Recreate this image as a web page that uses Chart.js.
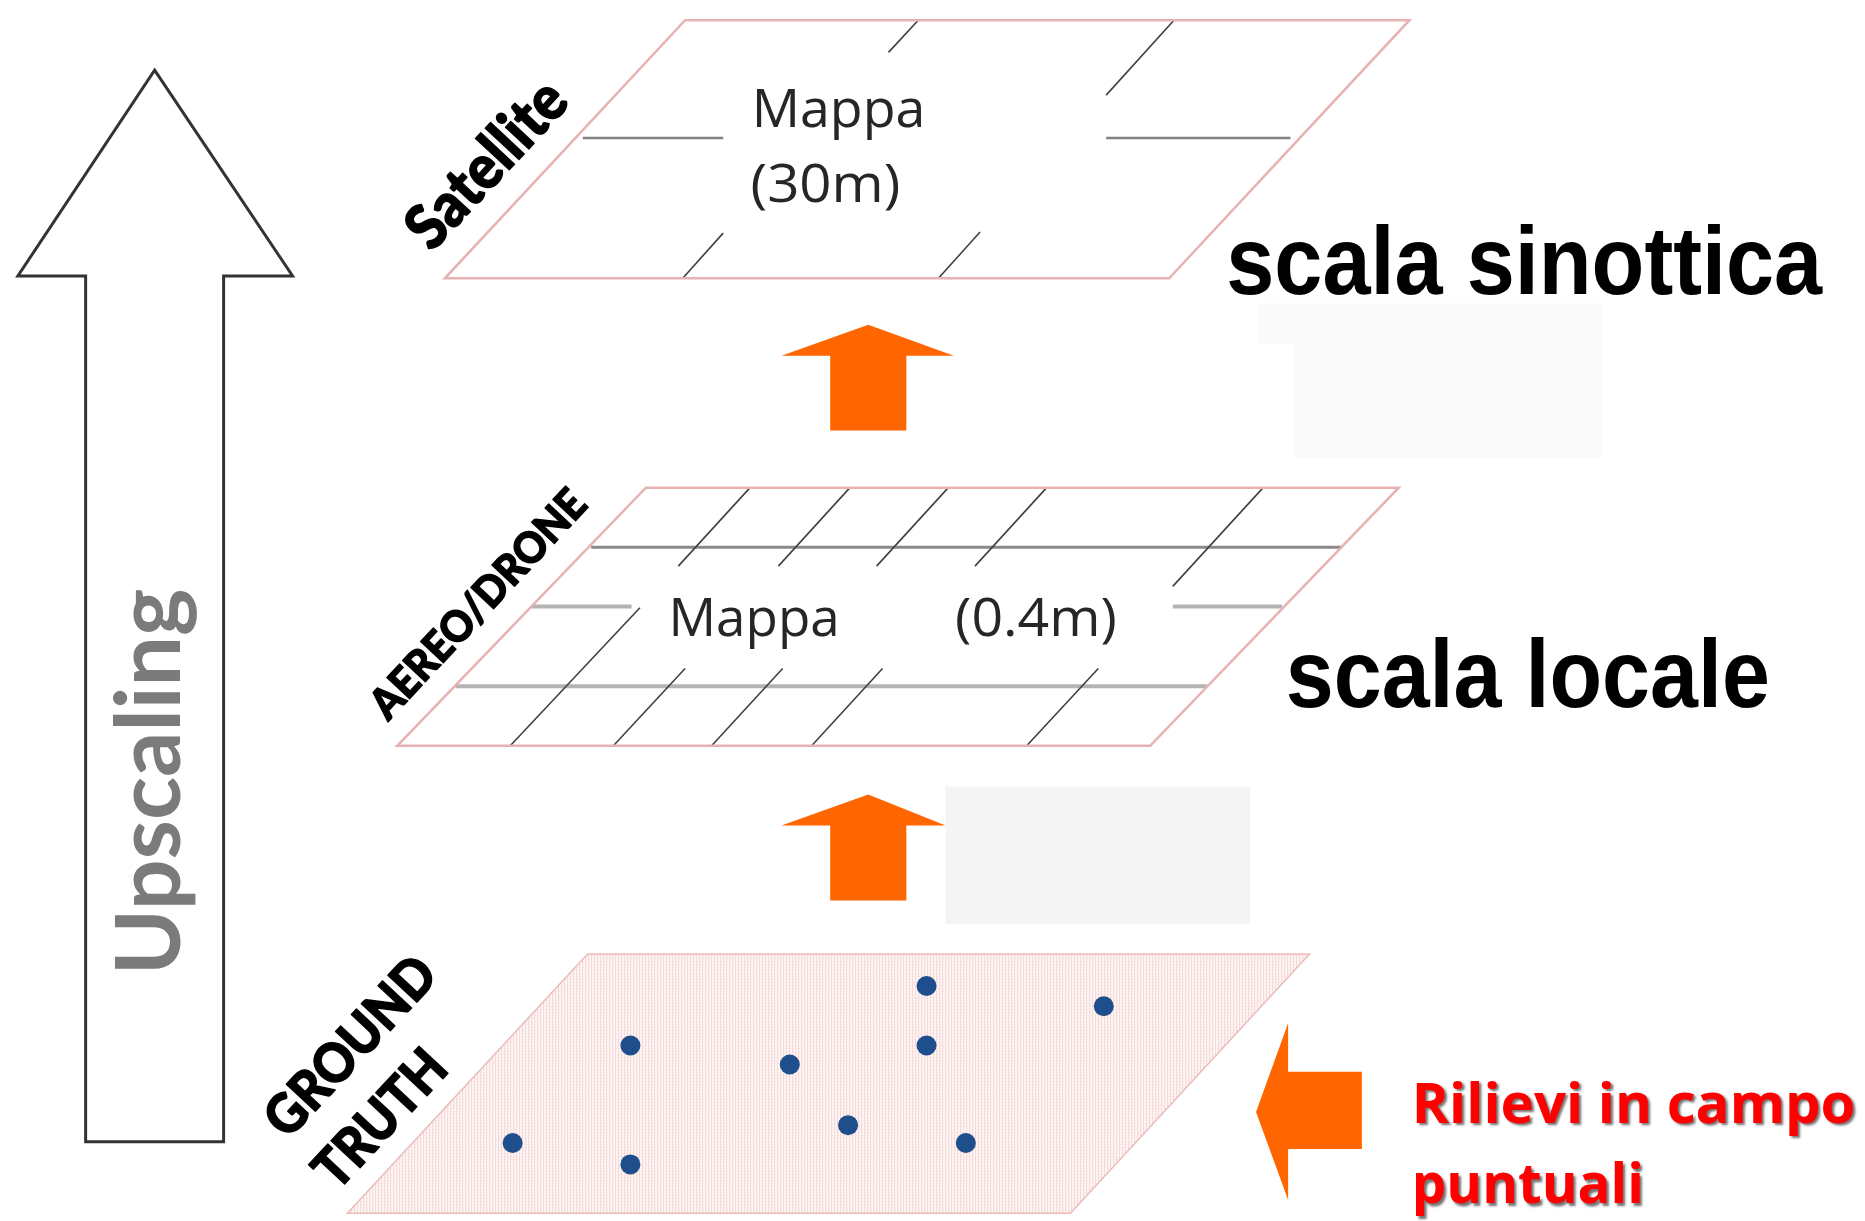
<!DOCTYPE html>
<html><head><meta charset="utf-8">
<script src="https://cdn.jsdelivr.net/npm/chart.js@4/dist/chart.umd.min.js"></script>
<style>html,body{margin:0;padding:0;background:#fff;overflow:hidden}#wrap{width:1865px;height:1221px;position:relative}</style>
</head><body><div id="wrap"><canvas id="c"></canvas></div>
<script>
// ---- reference frame (diagram units) ----
const frameW = 1568, frameH = 1568 * 1221 / 1865;

// ---- ground truth survey points ----
const pointX = [779, 928, 530, 779, 664, 713, 431, 812, 530];
const pointY = [829, 846, 879, 879, 895, 946, 961, 961, 979];

// ---- layer outlines (parallelograms) ----
const satCorners    = [[576,17],[1185,17],[983,234],[374,234]];
const droneCorners  = [[543,410],[1176,410],[967,627],[334,627]];
const groundCorners = [[494,802],[1101,802],[900,1020],[292,1020]];

// ---- grid segments [x1,y1,x2,y2] ----
const satGridH = [[490,116,608,116],[930,116,1085,116]];
const satGridD = [[772,17,747,44],[987,17,930,80],[608,196,574,234],[824,195,789,234]];
const droneGridHMain  = [[497,460,1128,460]];
const droneGridHLight = [[383,577,1015,577],[447,510,531,510],[986,510,1078,510]];
const droneGridD = [[630.6,410,570.3,476],[714.6,410,654.4,476],[797.3,410,737,476],[880,410,819.7,476],[1062,410,986,493],
                    [538,511,429,627],[576,562,515.7,627],[658,562,598.3,627],[742,562,682.4,627],[923.4,562,863.2,627]];

// ---- arrows and boxes ----
const bigArrow   = [[130,59],[246,232],[188,232],[188,960],[72,960],[72,232],[15,232]];
const orangeUp1  = [[730,273],[802,299],[762,299],[762,362],[698,362],[698,299],[657,299]];
const orangeUp2  = [[730,668],[795,694],[762,694],[762,757],[698,757],[698,694],[657,694]];
const orangeLeft = [[1056,935],[1083,860],[1083,901],[1145,901],[1145,966],[1083,966],[1083,1009]];
const greyBox1   = [[1058,255],[1346,255],[1346,385],[1088,385],[1088,289],[1058,289]];
const greyBox2   = [[795,661],[1051,661],[1051,777],[795,777]];

// ---- texts ----
const layerLabels = ['Satellite','AEREO/DRONE','GROUND','TRUTH'];
const mapLabels   = ['Mappa','(30m)','Mappa','(0.4m)'];
const scaleLabels = ['scala sinottica','scala locale'];
const fieldLabels = ['Rilievi in campo','puntuali'];
const sideLabel   = 'Upscaling';

function segSets(segs, color, width){
  return segs.map(s => ({
    data:[{x:s[0],y:s[1]},{x:s[2],y:s[3]}],
    showLine:true, borderColor:color, borderWidth:width, pointRadius:0,
    borderCapStyle:'butt', clip:false, fill:false
  }));
}

function P(chart, p){ return [chart.scales.x.getPixelForValue(p[0]), chart.scales.y.getPixelForValue(p[1])]; }
function K(chart){ const X = chart.scales.x; return (X.getPixelForValue(frameW) - X.getPixelForValue(0)) / frameW; }
function poly(chart, pts, fill, stroke, lw){
  const ctx = chart.ctx;
  ctx.save(); ctx.beginPath();
  pts.forEach((p,i)=>{ const q = P(chart,p); i ? ctx.lineTo(q[0],q[1]) : ctx.moveTo(q[0],q[1]); });
  ctx.closePath();
  if (fill){ ctx.fillStyle = fill; ctx.fill(); }
  if (stroke){ ctx.strokeStyle = stroke; ctx.lineWidth = lw; ctx.lineJoin = 'miter'; ctx.stroke(); }
  ctx.restore();
}
function drawText(chart, s, fx, fy, o){
  const ctx = chart.ctx, k = K(chart);
  const q = P(chart,[fx,fy]);
  ctx.save();
  ctx.font = (o.weight||'normal') + ' ' + (o.size*k) + 'px ' + o.family;
  ctx.fillStyle = o.color || '#000';
  ctx.textBaseline = 'alphabetic'; ctx.textAlign = 'left';
  const w = ctx.measureText(s).width;
  const sx = o.width ? (o.width*k)/w : 1;
  ctx.translate(q[0], q[1]);
  if (o.angle) ctx.rotate(o.angle*Math.PI/180);
  ctx.scale(sx,1);
  let dx = 0, dy = 0;
  if (o.center){ dx = -w/2; dy = o.size*k*(o.cap||0.72)/2; }
  if (o.shadow){ ctx.shadowColor = o.shadow; ctx.shadowOffsetX = 2*k; ctx.shadowOffsetY = 2*k; ctx.shadowBlur = 2*k; }
  ctx.fillText(s, dx, dy);
  if (o.stroke){ ctx.shadowColor = 'transparent'; ctx.lineWidth = o.stroke*k; ctx.strokeStyle = o.color; ctx.lineJoin='round'; ctx.strokeText(s, dx, dy); }
  ctx.restore();
}

function groundPattern(ctx){
  const c = document.createElement('canvas'); c.width = 3; c.height = 3;
  const g = c.getContext('2d');
  g.fillStyle = '#fdf4f4'; g.fillRect(0,0,3,3);
  g.fillStyle = '#f6d9d9'; g.fillRect(0,0,1,3);
  g.fillStyle = '#f9e3e3'; g.fillRect(1,1,1,1);
  return ctx.createPattern(c,'repeat');
}

const shapes = {
  id:'shapes',
  beforeDatasetsDraw(chart){
    const ctx = chart.ctx;
    poly(chart, bigArrow, '#ffffff', '#333333', 3);
    poly(chart, greyBox1, '#fafafa');
    poly(chart, greyBox2, '#f4f4f4');
    poly(chart, orangeUp1, '#ff6600');
    poly(chart, orangeUp2, '#ff6600');
    poly(chart, orangeLeft, '#ff6600');
    poly(chart, satCorners, '#ffffff');
    poly(chart, droneCorners, '#ffffff');
    poly(chart, groundCorners, groundPattern(ctx));
  },
  afterDatasetsDraw(chart){
    poly(chart, satCorners, null, '#e8b2b2', 2.5);
    poly(chart, droneCorners, null, '#e8b2b2', 2.5);
    poly(chart, groundCorners, null, '#ebbcbc', 1.5);
    // map texts
    const mo = {family:'"Open Sans"', size:44.5, color:'#262626'};
    drawText(chart, mapLabels[0], 632, 106.5, Object.assign({width:146}, mo));
    drawText(chart, mapLabels[1], 631, 169.5, Object.assign({width:126}, mo));
    drawText(chart, mapLabels[2], 562, 535, Object.assign({width:144}, mo));
    drawText(chart, mapLabels[3], 803, 535, Object.assign({width:136}, mo));
    // scale texts
    const so = {family:'"Liberation Sans", Arial', weight:'bold', size:81, color:'#000'};
    drawText(chart, scaleLabels[0], 1031, 247, Object.assign({width:501}, so));
    drawText(chart, scaleLabels[1], 1081, 594, Object.assign({width:407}, so));
    // field survey
    const fo = {family:'"Open Sans"', weight:'bold', size:47, color:'#ff0000', shadow:'rgba(0,0,0,0.55)'};
    drawText(chart, fieldLabels[0], 1187, 944, Object.assign({width:373}, fo));
    drawText(chart, fieldLabels[1], 1187, 1011.7, Object.assign({width:195}, fo));
    // layer labels (rotated)
    const lo = {family:'Lato', weight:'900', color:'#000', center:true, angle:-47, stroke:1.2};
    drawText(chart, layerLabels[0], 408, 137, Object.assign({size:52, width:172}, lo));
    drawText(chart, layerLabels[1], 401.5, 507.3, Object.assign({size:36, width:248}, lo));
    drawText(chart, layerLabels[2], 294, 879, Object.assign({size:46, width:188}, lo));
    drawText(chart, layerLabels[3], 319, 940, Object.assign({size:46, width:140}, lo));
    // side label
    drawText(chart, sideLabel, 151, 820, {family:'Lato', weight:'bold', size:76, color:'#7b7b7b', angle:-90, width:325});
  }
};

const datasets = [
  { data: pointX.map((x,i)=>({x, y:pointY[i]})), pointRadius:10, pointBackgroundColor:'#1f4e8c', pointBorderWidth:0, showLine:false, clip:false }
].concat(
  segSets(satGridD, '#404040', 1.6),
  segSets(droneGridD, '#404040', 1.6),
  segSets(satGridH, '#808080', 2.5),
  segSets(droneGridHMain, '#8a8a8a', 3),
  segSets(droneGridHLight, '#b4b4b4', 4)
);

new Chart(document.getElementById('c'), {
  type:'scatter',
  data:{ datasets },
  options:{
    responsive:true, maintainAspectRatio:false, animation:false, events:[],
    layout:{ padding:0, autoPadding:false },
    plugins:{ legend:{display:false}, tooltip:{enabled:false}, title:{display:false} },
    scales:{
      x:{ type:'linear', min:0, max:frameW, display:false },
      y:{ type:'linear', min:0, max:frameH, reverse:true, display:false }
    }
  },
  plugins:[shapes]
});
</script></body></html>
